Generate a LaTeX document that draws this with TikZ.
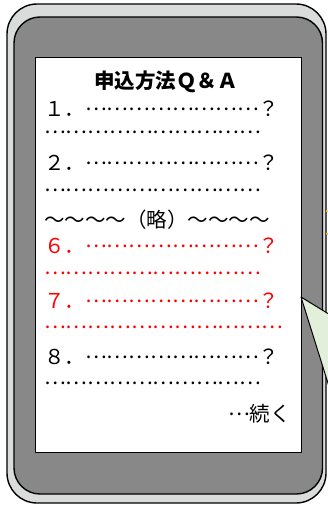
\documentclass[tikz,border=0pt]{standalone}
\usepackage{fontspec}
\setmainfont{Noto Sans CJK JP}[RawFeature=+fwid]
\usetikzlibrary{positioning}
\definecolor{bodycol}{RGB}{218,220,220}
\definecolor{bezelcol}{RGB}{136,136,136}
\definecolor{calloutcol}{RGB}{226,239,218}
\definecolor{markcol}{RGB}{255,192,0}
\definecolor{redcol}{RGB}{255,0,0}
\newcommand{\qafont}{\fontsize{20.5pt}{21pt}\selectfont}
% n full-width leaders, lifted to the middle of the line
\newcommand{\qaDots}[1]{\foreach \k in {1,...,#1}{\raisebox{0.3em}[0.45em][0pt]{…}}}
\tikzset{
  qaLine/.style={anchor=base west, inner sep=0pt, font=\qafont},
  qaRed/.style={qaLine, text=redcol}
}

\begin{document}
\begin{tikzpicture}[x=1pt, y=-1pt, line join=round]

  % --- frame of the picture ------------------------------------------------
  \useasboundingbox (0,0) rectangle (328,506);

  % --- phone body, bezel and screen --------------------------------------
  \draw[fill=bodycol, line width=1.4pt, rounded corners=30pt] (7,4) rectangle (326,503);
  \draw[fill=bezelcol, line width=1.4pt, rounded corners=26pt] (14,17) rectangle (322.5,494);
  \draw[fill=white, line width=0.9pt] (35,57) rectangle (301,452);

  % --- small marks peeking in at the right edge -------------------------
  \draw[markcol, line width=1.6pt] (326,211) -- (328,211.5);
  \draw[markcol, line width=1.6pt] (326,233.5) -- (328,234);

  % --- callout coming in from the right ---------------------------------
  \draw[fill=calloutcol, line width=1pt] (301,297) -- (332,316) -- (332,396) -- cycle;

  % --- screen text (positions are baselines) -------------------------------
  \node[inner sep=0pt, anchor=base, font=\qafont\bfseries] (title) at (166,88) {申込方法Q＆A};
  \node[qaLine] (q1) at (44,116.5) {１．\qaDots{8}？};
  \node[qaLine] (a1) at (44,139.5) {\qaDots{10}};
  \node[qaLine] (q2) at (44,170.5) {２．\qaDots{8}？};
  \node[qaLine] (a2) at (44,197.5) {\qaDots{10}};
  \node[qaLine] (skip) at (44,227) {～～～～（略）～～～～};
  \node[qaRed] (q6) at (44,253.5) {６．\qaDots{8}？};
  \node[qaRed] (a6) at (44,280.5) {\qaDots{10}};
  \node[qaRed] (q7) at (44,308.5) {７．\qaDots{8}？};
  \node[qaRed] (a7) at (44,334.5) {\qaDots{11}};
  \node[qaLine] (q8) at (44,364.5) {８．\qaDots{8}？};
  \node[qaLine] (a8) at (44,390.5) {\qaDots{10}};
  \node[qaLine, anchor=base east] (more) at (291,421.5) {\qaDots{1}続く};

\end{tikzpicture}
\end{document}
